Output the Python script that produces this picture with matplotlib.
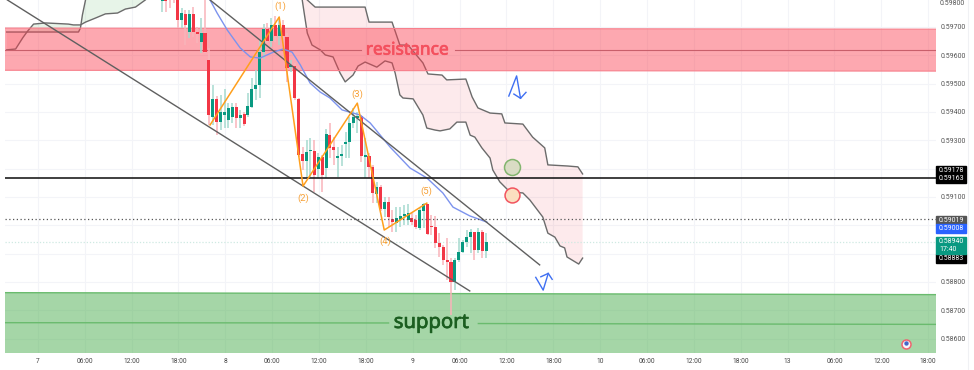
import matplotlib
matplotlib.use("Agg")
import matplotlib.pyplot as plt
import matplotlib.patheffects as pe
import numpy as np
from matplotlib.lines import Line2D

plt.rcParams['font.family'] = ['Roboto', 'DejaVu Sans']

# half hour bars, bar 0 is the day "7" tick, prices in 1e-5
first_bar = 31
opens = [59791, 59806, 59806, 59810, 59806, 59724, 59746, 59682, 59746, 59682,
         59647, 59678, 59583, 59382, 59446, 59364, 59389, 59371, 59382, 59417,
         59378, 59393, 59389, 59417, 59481, 59495, 59611, 59693, 59650, 59707,
         59668, 59707, 59664, 59558, 59562, 59446, 59251, 59227, 59262, 59262,
         59198, 59241, 59202, 59318, 59276, 59237, 59244, 59287, 59294, 59361,
         59378, 59386, 59241, 59244, 59206, 59110, 59135, 59057, 59082, 59022,
         59008, 59022, 59033, 59018, 59025, 59018, 58990, 59050, 59075, 58997,
         58994, 58937, 58923, 58877, 58870, 58800, 58877, 58906, 58941, 58958,
         58976, 58913, 58976, 58909]
closes = [59806, 59791, 59795, 59800, 59724, 59749, 59707, 59746, 59682, 59675,
          59678, 59611, 59389, 59446, 59364, 59400, 59400, 59414, 59417, 59378,
          59389, 59357, 59421, 59481, 59495, 59611, 59693, 59650, 59707, 59668,
          59707, 59668, 59555, 59566, 59449, 59248, 59227, 59258, 59266, 59177,
          59241, 59177, 59322, 59273, 59266, 59244, 59251, 59294, 59361, 59382,
          59386, 59244, 59248, 59206, 59114, 59135, 59057, 59082, 59029, 59011,
          59025, 59033, 59040, 59043, 59011, 58994, 59054, 59075, 58969, 58994,
          58937, 58923, 58877, 58870, 58800, 58877, 58906, 58941, 58958, 58976,
          58913, 58976, 58909, 58941]
highs = [59813, 59813, 59813, 59813, 59813, 59767, 59760, 59760, 59770, 59700,
         59731, 59813, 59626, 59495, 59456, 59460, 59481, 59431, 59431, 59431,
         59407, 59400, 59467, 59520, 59548, 59654, 59710, 59714, 59731, 59739,
         59735, 59724, 59678, 59583, 59573, 59449, 59276, 59301, 59308, 59301,
         59255, 59248, 59340, 59361, 59311, 59276, 59283, 59329, 59382, 59414,
         59400, 59389, 59308, 59255, 59213, 59153, 59142, 59100, 59100, 59054,
         59064, 59064, 59071, 59075, 59043, 59036, 59061, 59078, 59075, 59036,
         59033, 58972, 58930, 58955, 58884, 58884, 58955, 58948, 58983, 58987,
         58976, 58990, 58983, 58972]
lows = [59753, 59753, 59767, 59784, 59696, 59696, 59636, 59661, 59664, 59643,
        59608, 59608, 59354, 59354, 59318, 59336, 59343, 59343, 59361, 59343,
        59343, 59350, 59382, 59414, 59442, 59449, 59587, 59643, 59629, 59647,
        59636, 59636, 59506, 59541, 59442, 59241, 59195, 59167, 59170, 59117,
        59167, 59117, 59167, 59237, 59213, 59170, 59209, 59237, 59237, 59343,
        59326, 59223, 59167, 59167, 59078, 59078, 59050, 59029, 58994, 58976,
        58976, 58994, 59001, 59001, 59001, 58987, 58983, 58990, 58965, 58965,
        58920, 58888, 58860, 58807, 58683, 58771, 58870, 58902, 58923, 58902,
        58877, 58902, 58884, 58884]

# cloud outlines
cloud_a_x = [66.9, 67.4, 68.2, 69.4, 71.5, 72.8, 74.8, 76.6, 77.9, 79.9, 81.2, 83, 86, 88.1, 89.9,
             90.7, 91.9, 92.7, 95.3, 97.8, 98.8, 100.9, 102.2, 104.7, 106.5, 108.8, 109.9, 111.1,
             112.9, 115, 115.7, 117.5, 120.1, 123.4, 125.2, 128.5, 129.8, 131.6, 132.9, 134.1,
             134.7, 137.7, 138.7]
cloud_a_y = [59795, 59749, 59678, 59636, 59619, 59601, 59594, 59537, 59506, 59530, 59562, 59576,
             59558, 59580, 59573, 59537, 59460, 59449, 59446, 59389, 59343, 59336, 59333, 59340,
             59364, 59364, 59318, 59311, 59273, 59237, 59195, 59153, 59117, 59114, 59089, 59029,
             58972, 58958, 58927, 58920, 58888, 58863, 58884]
cloud_b_x = [68.2, 70.2, 83, 84, 89.9, 91.9, 94, 97.8, 99.1, 102.7, 103.9, 108.8, 110.4, 111.9,
             115, 118, 118.8, 123.4, 125.9, 129, 129.8, 134.9, 137.5, 138.7]
cloud_b_y = [59795, 59770, 59770, 59717, 59717, 59636, 59636, 59573, 59534, 59530, 59513, 59516,
             59453, 59414, 59396, 59393, 59361, 59357, 59311, 59273, 59213, 59209, 59206, 59181]
left_low_x = [-8.8, -6.5, -4.7, -3.6, -3.2, -1.9, 1.2, 7, 8.3, 10.1, 11.4, 13.9, 16.5, 19.6, 21.6, 24.2, 26.7]
left_low_y = [59619, 59622, 59661, 59682, 59689, 59710, 59714, 59710, 59707, 59707, 59717, 59731,
              59746, 59749, 59763, 59770, 59795]
left_top_x = [-8.8, 9.6, 10.1, 10.6, 11.4]
left_top_y = [59682, 59682, 59696, 59742, 59795]

ma_x = [43.3, 45.1, 47.7, 51, 53.6, 56.1, 59.5, 62, 64.3, 66.4, 68.9, 71.5, 74, 77.1, 81.7, 84.3,
        89.4, 94.5, 98.8, 102.9, 105.5, 109.8, 114.2]
ma_y = [59795, 59749, 59689, 59626, 59594, 59590, 59611, 59622, 59611, 59566, 59502, 59470, 59449,
        59407, 59389, 59361, 59276, 59202, 59167, 59114, 59064, 59033, 59011]

wave_x = [43.3, 61, 67.1, 81, 87.9, 98.8]
wave_y = [59354, 59735, 59138, 59431, 58983, 59078]
wave_labels = ['(1)', '(2)', '(3)', '(4)', '(5)']
wave_label_x = [61.3, 67.1, 81, 88.1, 98.8]
wave_label_y = [59774, 59096, 59463, 58944, 59121]

channel_low_x, channel_low_y = [-8.6, 109.8], [59795, 58768]
channel_up_x, channel_up_y = [43.3, 127.7], [59795, 58860]

arrow_up_x = [119.8, 121.8, 122.8]
arrow_up_y = [59456, 59527, 59448]
arrow_up_head_x = [121.1, 122.8, 124.2]
arrow_up_head_y = [59463, 59448, 59469]
arrow_low_x = [126.7, 128.6, 129.9]
arrow_low_y = [58816, 58771, 58830]
arrow_low_head_x = [128, 129.9, 130.9]
arrow_low_head_y = [58818, 58830, 58809]

tick_labels = ['7', '06:00', '12:00', '18:00', '8', '06:00', '12:00', '18:00', '9', '06:00', '12:00',
               '18:00', '10', '06:00', '12:00', '18:00', '13', '06:00', '12:00', '18:00']
price_ticks = [0.597, 0.596, 0.595, 0.594, 0.593, 0.592, 0.591, 0.590, 0.589, 0.588, 0.587, 0.586]
price_labels = ['0.59700', '0.59600', '0.59500', '0.59400', '0.59300', '', '0.59100', '', '',
                '0.58800', '0.58700', '0.58600']

RED = '#f23645'
GREEN = '#089981'


def p(values):
    return np.array(values) / 1e5


fig = plt.figure(figsize=(9.74, 3.7), dpi=100)
ax = fig.add_axes([5 / 974, 1 - 353 / 370, 931 / 974, 353 / 370])
ax.set_xlim(-9.22, 229.2)
ax.set_ylim(0.58549, 0.59795)
for s in ax.spines.values():
    s.set_visible(False)

ax.set_xticks(np.arange(len(tick_labels)) * 12 - 0.8)
ax.set_xticklabels(tick_labels, fontsize=4.8, color='#444444')
ax.yaxis.tick_right()
ax.set_yticks(price_ticks)
ax.set_yticklabels(price_labels, fontsize=5, color='#555555')
ax.tick_params(length=0)
ax.tick_params(axis='y', pad=3.6)
ax.tick_params(axis='x', pad=3.5)
ax.grid(True, color='#f3f4f8', lw=0.8)
ax.set_axisbelow(True)
# top label sits right on the picture edge
ax.text(1.0039, 0.59795, '0.59800', transform=ax.get_yaxis_transform(), fontsize=5, color='#555555',
        va='top', ha='left', clip_on=False)
fig.add_artist(Line2D([968 / 974, 968 / 974], [0, 1], color='#f0f1f4', lw=0.8))

# clouds
split = left_low_x.index(-3.6)
ax.fill(left_low_x[:split + 1] + [-8.8], p(left_low_y[:split + 1] + [59682]), color=RED, alpha=0.15, lw=0, zorder=1)
ax.fill(left_low_x[split:] + left_top_x[:0:-1], p(left_low_y[split:] + left_top_y[:0:-1]),
        color='#4caf50', alpha=0.13, lw=0, zorder=1)
ax.fill(cloud_a_x + cloud_b_x[::-1], p(cloud_a_y + cloud_b_y[::-1]), color=RED, alpha=0.1, lw=0, zorder=1)
for x, y in [(left_low_x, left_low_y), (left_top_x, left_top_y), (cloud_a_x, cloud_a_y), (cloud_b_x, cloud_b_y)]:
    ax.plot(x, p(y), color='#6b6b6b', lw=1, zorder=2)

# zones
ax.fill([-9.22, 229.2, 229.2, -9.22], p([59696, 59692, 59544, 59547]), facecolor='#fb3f50', alpha=0.45,
        edgecolor='none', zorder=2)
ax.plot([-9.22, 229.2], p([59696, 59692]), color='#f77f8b', lw=0.8, zorder=2)
ax.plot([-9.22, 229.2], p([59547, 59544]), color='#f77f8b', lw=0.8, zorder=2)
ax.plot([-9.22, 82], p([59620, 59620]), color='#c95f6b', lw=0.8, zorder=2)
ax.plot([106, 229.2], p([59620, 59620]), color='#c95f6b', lw=0.8, zorder=2)

ax.fill([-9.22, 229.2, 229.2, -9.22], p([58762, 58755, 58545, 58545]), facecolor='#4caf50', alpha=0.5,
        edgecolor='none', zorder=2)
ax.plot([-9.22, 229.2], p([58762, 58755]), color='#6abb6e', lw=1, zorder=2)
ax.plot([-9.22, 89], p([58656, 58655]), color='#6abb6e', lw=1, zorder=2)
ax.plot([112, 229.2], p([58653, 58650]), color='#6abb6e', lw=1, zorder=2)

# candles
bars = first_bar + np.arange(len(opens))
o, c, h, l = p(opens), p(closes), p(highs), p(lows)
up = c >= o
wick_colors = ['#a6dacf' if u else '#f9b4ba' for u in up]
body_colors = [GREEN if u else RED for u in up]
ax.vlines(bars, l, h, colors=wick_colors, lw=1.1, zorder=3)
ax.bar(bars, np.maximum(np.abs(c - o), 0.00002), bottom=np.minimum(o, c), width=0.78, color=body_colors, lw=0, zorder=4)

# lines on top of the candles
ax.plot(ma_x, p(ma_y), color='#7c93ee', lw=1, zorder=5)
ax.plot(channel_low_x, p(channel_low_y), color='#5f5f5f', lw=1, zorder=5)
ax.plot(channel_up_x, p(channel_up_y), color='#5f5f5f', lw=1, zorder=5)
ax.plot(wave_x, p(wave_y), color='#ff9f1c', lw=1.1, zorder=6)
for x, y, t in zip(wave_label_x, wave_label_y, wave_labels):
    ax.text(x, p(y), t, color='#f7a035', fontsize=6.8, ha='center', va='center', zorder=7)

ax.axhline(0.59168, color='#1e1e1e', lw=1.2, zorder=5)
ax.axhline(0.59021, color='#555555', lw=0.9, ls=(0, (1, 2)), zorder=5)
ax.axhline(0.58940, color='#cfe9e2', lw=0.9, ls=(0, (1, 1.5)), zorder=1.5)

ax.scatter([120.7], [0.59206], s=132, facecolor='#d9dcc4', edgecolor='#83b56f', lw=1.1, zorder=6)
ax.scatter([120.7], [0.59107], s=115, facecolor='#fbdfc0', edgecolor='#f2545f', lw=1.1, zorder=6)

for x, y in [(arrow_up_x, arrow_up_y), (arrow_up_head_x, arrow_up_head_y),
             (arrow_low_x, arrow_low_y), (arrow_low_head_x, arrow_low_head_y)]:
    ax.plot(x, p(y), color='#3f6ff2', lw=1, zorder=6)

ax.text(93.8, 0.59620, 'resistance', color='#f4505e', fontsize=12.5, family='Noto Sans',
        ha='center', va='center', zorder=7,
        path_effects=[pe.withStroke(linewidth=0.5, foreground='#f4505e')])
ax.text(100, 0.58655, 'support', color='#1b5e20', fontsize=14.6, family='Noto Sans',
        ha='center', va='center', zorder=7,
        path_effects=[pe.withStroke(linewidth=0.5, foreground='#1b5e20')])

# news flag
ax.scatter([221.5], [0.58580], s=42, facecolor='#f7f7fb', edgecolor='#ef6470', lw=1.1, zorder=7)
ax.scatter([221.5], [0.58583], s=10, facecolor='#4267c9', lw=0, zorder=8)

# price labels
boxes = [('0.59178', '#000000', 170), ('0.59163', '#000000', 178.5),
         ('0.59019', '#555555', 220), ('0.59008', '#2962ff', 228.5),
         ('0.58883', '#000000', 258.5)]
for label, col, py in boxes:
    fig.patches.append(plt.Rectangle((936 / 974, 1 - (py + 4.25) / 370), 30 / 974, 8.5 / 370, color=col,
                                     transform=fig.transFigure))
    fig.text(951 / 974, 1 - py / 370, label, color='white', fontsize=5, ha='center', va='center')
fig.patches.append(plt.Rectangle((936 / 974, 1 - 254 / 370), 30 / 974, 17 / 370, color=GREEN,
                                 transform=fig.transFigure))
fig.text(951 / 974, 1 - 241.5 / 370, '0.58940', color='white', fontsize=5, ha='center', va='center')
fig.text(948 / 974, 1 - 249.5 / 370, '17:40', color='white', fontsize=5, ha='center', va='center')

fig.savefig('out.png', dpi=100)
